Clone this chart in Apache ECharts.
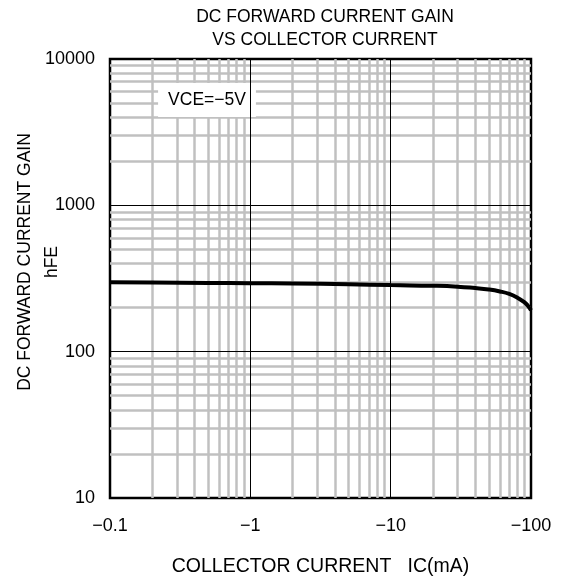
<!DOCTYPE html>
<html>
<head>
<meta charset="utf-8">
<script src="https://cdn.jsdelivr.net/npm/echarts@6/dist/echarts.min.js"></script>
<style>
  html, body { margin: 0; padding: 0; background: #fff; }
  #chart { width: 567px; height: 580px; }
</style>
</head>
<body>
<div id="chart"></div>
<script>
// collector current (mA, shown as negative) and DC current gain
const currentMA = [0.1, 0.2, 0.5, 1, 2, 5, 10, 20, 30, 40, 50, 60, 70, 80, 90, 95, 100];
const hFE = [298, 297, 295, 294, 292, 289, 285, 282, 278, 272, 266, 258, 248, 234, 217, 206, 192];

const xMajor = [1, 10];
const yMajor = [100, 1000];
const xMinor = [0.2, 0.3, 0.4, 0.5, 0.6, 0.7, 0.8, 0.9, 2, 3, 4, 5, 6, 7, 8, 9, 20, 30, 40, 50, 60, 70, 80, 90];
const yMinor = [20, 30, 40, 50, 60, 70, 80, 90, 200, 300, 400, 500, 600, 700, 800, 900,
  2000, 3000, 4000, 5000, 6000, 7000, 8000, 9000];

const FONT = 'Liberation Sans';

const chart = echarts.init(document.getElementById('chart'));

const points = currentMA.map((x, i) => [x, hFE[i]]);

function gridLines(xs, ys) {
  return xs.map(v => ({ xAxis: v })).concat(ys.map(v => ({ yAxis: v })));
}

const option = {
  animation: false,
  backgroundColor: '#fff',
  title: {
    text: 'DC FORWARD CURRENT GAIN\nVS COLLECTOR CURRENT',
    left: 320,
    top: 1,
    textAlign: 'center',
    textStyle: {
      fontFamily: FONT,
      fontSize: 17.5,
      fontWeight: 'normal',
      color: '#000',
      lineHeight: 23
    }
  },
  grid: {
    left: 110,
    right: 36,
    top: 59,
    bottom: 82,
    outerBoundsMode: 'none',
    show: true,
    borderColor: '#000',
    borderWidth: 2.5
  },
  xAxis: {
    type: 'log',
    logBase: 10,
    min: 0.1,
    max: 100,
    name: 'COLLECTOR CURRENT   IC(mA)',
    nameLocation: 'middle',
    nameGap: 59,
    nameTextStyle: { fontFamily: FONT, fontSize: 19.5, color: '#000' },
    axisLine: { show: false },
    axisTick: { show: false },
    splitLine: { show: false },
    axisLabel: {
      fontFamily: FONT,
      fontSize: 18,
      color: '#000',
      margin: 19,
      formatter: v => '\u2212' + Number(v.toPrecision(6))
    }
  },
  yAxis: {
    type: 'log',
    logBase: 10,
    min: 10,
    max: 10000,
    axisLine: { show: false },
    axisTick: { show: false },
    splitLine: { show: false },
    axisLabel: {
      fontFamily: FONT,
      fontSize: 18,
      color: '#000',
      margin: 15,
      formatter: v => String(Math.round(v))
    }
  },
  graphic: [
    {
      type: 'text',
      x: 25,
      y: 262,
      rotation: Math.PI / 2,
      style: {
        text: 'DC FORWARD CURRENT GAIN',
        fontFamily: FONT,
        fontSize: 17.5,
        fill: '#000',
        textAlign: 'center',
        textVerticalAlign: 'middle'
      }
    },
    {
      type: 'text',
      x: 52,
      y: 262,
      rotation: Math.PI / 2,
      style: {
        text: 'hFE',
        fontFamily: FONT,
        fontSize: 17.5,
        fill: '#000',
        textAlign: 'center',
        textVerticalAlign: 'middle'
      }
    },
    {
      type: 'text',
      x: 207,
      y: 100,
      z: 2,
      style: {
        text: 'VCE=\u22125V',
        fontFamily: FONT,
        fontSize: 17.5,
        fill: '#000',
        textAlign: 'center',
        textVerticalAlign: 'middle',
        backgroundColor: '#fff',
        padding: [8, 10]
      }
    }
  ],
  series: [
    {
      // minor grid
      type: 'line',
      z: 1,
      data: points,
      showSymbol: false,
      silent: true,
      lineStyle: { opacity: 0, width: 0 },
      markLine: {
        z: 1,
        silent: true,
        symbol: ['none', 'none'],
        label: { show: false },
        lineStyle: { type: 'solid', color: '#c0c0c0', width: 2.5 },
        emphasis: { disabled: true },
        data: gridLines(xMinor, yMinor)
      }
    },
    {
      // major grid
      type: 'line',
      z: 3,
      data: points,
      showSymbol: false,
      silent: true,
      lineStyle: { opacity: 0, width: 0 },
      markLine: {
        z: 3,
        silent: true,
        symbol: ['none', 'none'],
        label: { show: false },
        lineStyle: { type: 'solid', color: '#000', width: 1 },
        emphasis: { disabled: true },
        data: gridLines(xMajor, yMajor)
      }
    },
    {
      type: 'line',
      z: 4,
      data: points,
      smooth: true,
      showSymbol: false,
      lineStyle: { color: '#000', width: 4 }
    }
  ]
};

chart.setOption(option);
</script>
</body>
</html>
